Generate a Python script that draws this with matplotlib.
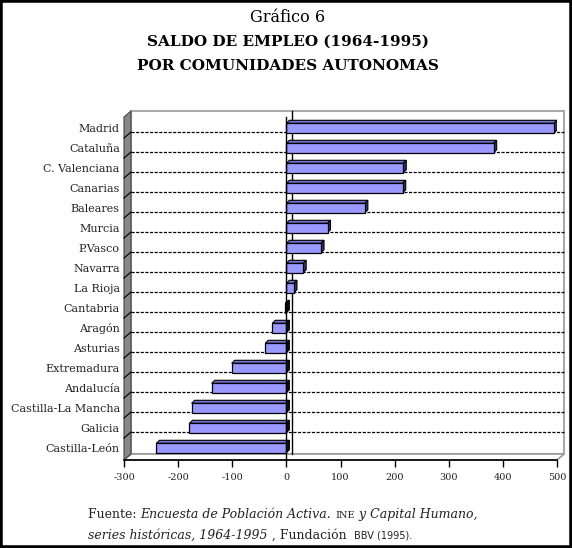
import matplotlib.pyplot as plt
from matplotlib.patches import Polygon, Rectangle
import numpy as np

# data (miles de empleos)
regiones = ['Madrid', 'Cataluña', 'C. Valenciana', 'Canarias', 'Baleares', 'Murcia',
            'P.Vasco', 'Navarra', 'La Rioja', 'Cantabria', 'Aragón', 'Asturias',
            'Extremadura', 'Andalucía', 'Castilla-La Mancha', 'Galicia', 'Castilla-León']
saldo = [495, 383, 216, 215, 145, 76, 64, 31, 14, -2, -26, -39, -101, -138, -175, -179, -240]
xticks = [-300, -200, -100, 0, 100, 200, 300, 400, 500]

W, H = 572, 548
fig = plt.figure(figsize=(W / 100, H / 100), dpi=100)
serif = 'DejaVu Serif'

# axes en pixeles
x0, x1, ybot, ytop = 124, 557, 460, 117
ax = fig.add_axes([x0 / W, 1 - ybot / H, (x1 - x0) / W, (ybot - ytop) / H])
xmin, xmax = -300, 500
ymin, ymax = -0.6, 16.55
ax.set_xlim(xmin, xmax)
ax.set_ylim(ymin, ymax)
ax.patch.set_alpha(0)

pxx = (xmax - xmin) / (x1 - x0)     # unidades por pixel en x
pxy = (ymax - ymin) / (ybot - ytop)  # unidades por pixel en y

# profundidad del "3D"
wdx, wdy = 7 * pxx, 6 * pxy
bdx, bdy = 3 * pxx, 3 * pxy

n = len(regiones)
ypos = np.arange(n)[::-1]

# pared del fondo
ax.add_patch(Rectangle((xmin + wdx, ymin + wdy), xmax - xmin, ymax - ymin,
                       facecolor='white', edgecolor='#aaaaaa', lw=1.5, clip_on=False, zorder=0))
# suelo
ax.add_patch(Polygon([(xmin, ymin), (xmax, ymin), (xmax + wdx, ymin + wdy), (xmin + wdx, ymin + wdy)],
                     closed=True, facecolor='white', edgecolor='#999999', lw=1.2, clip_on=False, zorder=0.5))
# pared izquierda
ax.add_patch(Polygon([(xmin, ymin), (xmin + wdx, ymin + wdy), (xmin + wdx, ymax + wdy), (xmin, ymax)],
                     closed=True, facecolor='#888888', edgecolor='#444444', lw=0.8, clip_on=False, zorder=1))

# lineas de rejilla en el fondo y marcas en la pared
for b in np.arange(n - 1) + 0.5:
    ax.plot([xmin + wdx, xmax + wdx], [b + wdy, b + wdy], color='black', lw=0.9,
            ls=(0, (2.5, 1.2)), clip_on=False, zorder=1)
    ax.plot([xmin, xmin + wdx], [b, b + wdy], color='black', lw=0.8, clip_on=False, zorder=1.5)

# eje cero (fondo y frente)
ax.plot([wdx * 0.85, wdx * 0.85], [ymin + wdy, ymax + wdy], color='black', lw=1.0, zorder=1, clip_on=False)
ax.plot([0, 0], [ymin, ymax], color='black', lw=1.0, zorder=4, clip_on=False)

# barras en falso 3D
h = 0.47
cara = '#9999ff'
for y, v in zip(ypos, saldo):
    a, b = min(0, v), max(0, v)
    lo, hi = y - h / 2, y + h / 2
    ax.add_patch(Polygon([(a, hi), (b, hi), (b + bdx, hi + bdy), (a + bdx, hi + bdy)],
                         closed=True, facecolor='#7373cc', edgecolor='black', lw=0.8, zorder=3))
    ax.add_patch(Polygon([(b, lo), (b, hi), (b + bdx, hi + bdy), (b + bdx, lo + bdy)],
                         closed=True, facecolor='#111122' if v < 0 else '#333377',
                         edgecolor='black', lw=0.8, zorder=3))
    if b - a > 0:
        ax.add_patch(Rectangle((a, lo), b - a, h, facecolor=cara, edgecolor='black', lw=0.9, zorder=3))

# ejes
for s in ['top', 'right', 'left']:
    ax.spines[s].set_visible(False)
ax.spines['bottom'].set_linewidth(1.2)
ax.spines['bottom'].set_zorder(5)
ax.set_xticks(xticks)
ax.set_xticklabels([str(t) for t in xticks], fontsize=7, family=serif, color='#222222')
ax.tick_params(axis='x', direction='out', length=5, width=1, pad=4)
ax.set_yticks(ypos)
ax.set_yticklabels(regiones, fontsize=8, family=serif, color='#222222')
ax.tick_params(axis='y', length=0, pad=3)

# titulos
fig.text(288 / W, 1 - 17 / H, 'Gráfico 6', ha='center', va='center', fontsize=11.5, family=serif)
fig.text(288 / W, 1 - 42 / H, 'SALDO DE EMPLEO (1964-1995)', ha='center', va='center',
         fontsize=11, family=serif, weight='bold')
fig.text(288 / W, 1 - 66 / H, 'POR COMUNIDADES AUTONOMAS', ha='center', va='center',
         fontsize=11, family=serif, weight='bold')

# fuente (texto con estilos mezclados)
fig.canvas.draw()
renderer = fig.canvas.get_renderer()


def linea(piezas, x, y):
    for txt, kw in piezas:
        t = fig.text(x / W, 1 - y / H, txt, ha='left', va='baseline', **kw)
        bb = t.get_window_extent(renderer)
        x += bb.width


nor = dict(fontsize=9, family=serif, color='#222222')
ita = dict(fontsize=9, family=serif, style='italic', color='#222222')
peq = dict(fontsize=7, family=serif, color='#222222')
sans = dict(fontsize=7, family='DejaVu Sans', color='#222222')
linea([('Fuente: ', nor), ('Encuesta de Población Activa. ', ita), ('INE', peq),
       (' y Capital Humano,', ita)], 88, 518)
linea([('series históricas, 1964-1995', ita), (' , Fundación  ', nor), ('BBV (1995).', sans)], 88, 539)

# marco exterior
fig.add_artist(Rectangle((0, 0), 1, 1, transform=fig.transFigure, fill=False,
                         edgecolor='black', lw=4))

fig.savefig('out.png', dpi=100)
